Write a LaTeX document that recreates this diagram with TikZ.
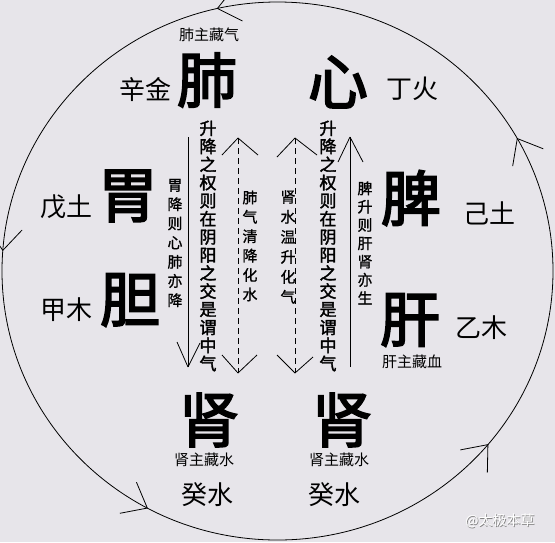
\documentclass[tikz,border=0pt]{standalone}
\usepackage{fontspec}
\newfontfamily\cjk{Noto Sans CJK SC}
\newfontfamily\cjkm[FakeBold=1]{Noto Sans CJK SC}
\newfontfamily\cjkb[FakeBold=2]{Noto Sans CJK SC}
\newfontfamily\cjkv[FakeBold=3]{Noto Sans CJK SC}
\usetikzlibrary{positioning}
\definecolor{ozadje}{RGB}{231,229,234}

\begin{document}
\begin{tikzpicture}[x=1pt, y=-1pt, line width=0.8pt,
	organ/.style={font=\cjkv\fontsize{60}{60}\selectfont, inner sep=0pt},
	gan/.style={font=\cjk\fontsize{26}{26}\selectfont, inner sep=0pt},
	opomba/.style={font=\cjk\fontsize{15}{15}\selectfont, inner sep=0pt},
	stolpec/.style={font=\cjkb\fontsize{17}{18.1}\selectfont, align=center, inner sep=0pt},
	stolpecm/.style={font=\cjkm\fontsize{15}{#1}\selectfont, align=center, inner sep=0pt},
	crtkana/.style={dash pattern=on 6pt off 4pt}]
		\fill[ozadje] (0,0) rectangle (555,542);
		\useasboundingbox (0,0) rectangle (555,542);
		% krog s puscicami
		\coordinate (sredisce) at (277.5,271);
		\draw (sredisce) ellipse [x radius=275.5, y radius=269];
		\foreach \f in {29.5,102.6,175.6,241.8,319.8} {
			\draw (sredisce) ++(-\f:275.5 and 269) coordinate (konica)
				++(129-\f:28) -- (konica) -- ++(51-\f:28);
		}

		% organi
		\node[opomba] (feizhu) at (209,35) {肺主藏气};
		\node[organ] (fei) at (207,80) {肺};
		\node[gan] (xinjin) at (145,89) {辛金};
		\node[organ] (xin) at (338,82) {心};
		\node[gan] (dinghuo) at (412,89) {丁火};
		\node[organ] (wei) at (128,196) {胃};
		\node[gan] (wutu) at (67,207) {戊土};
		\node[organ] (dan) at (130,300) {胆};
		\node[gan] (jiamu) at (67,310) {甲木};
		\node[organ] (pi) at (411,198) {脾};
		\node[gan] (jitu) at (489,213) {己土};
		\node[organ] (gan) at (410,320) {肝};
		\node[gan] (yimu) at (481,328) {乙木};
		\node[opomba] (ganzhu) at (412,362) {肝主藏血};
		\node[organ] (shenl) at (209,420) {肾};
		\node[opomba] (shenzhul) at (204,460) {肾主藏水};
		\node[gan] (guishuil) at (207,495) {癸水};
		\node[organ] (shenr) at (342,420) {肾};
		\node[opomba] (shenzhur) at (339,460) {肾主藏水};
		\node[gan] (guishuir) at (334,495) {癸水};

		% navpicna besedila
		\node[stolpecm=19.2] (weijiang) at (175,243) {胃\\降\\则\\心\\肺\\亦\\降};
		\node[stolpec] (zhongl) at (208,246) {升\\降\\之\\权\\则\\在\\阴\\阳\\之\\交\\是\\谓\\中\\气};
		\node[stolpecm=19.4] (feiqi) at (250,246) {肺\\气\\清\\降\\化\\水};
		\node[stolpecm=20] (shenshui) at (288,247) {肾\\水\\温\\升\\化\\气};
		\node[stolpec] (zhongr) at (328,246) {升\\降\\之\\权\\则\\在\\阴\\阳\\之\\交\\是\\谓\\中\\气};
		\node[stolpecm=18.3] (pisheng) at (365,243) {脾\\升\\则\\肝\\肾\\亦\\生};

		% puscice
		\coordinate (lz) at (188,137);
		\coordinate (ls) at (188,367);
		\coordinate (dz) at (350,137);
		\coordinate (ds) at (350,367);
		\coordinate (c1z) at (238,138);
		\coordinate (c1s) at (238,373);
		\coordinate (c2z) at (295,138);
		\coordinate (c2s) at (295,373);
		\draw (lz) to (ls);
		\draw (ls) -- ++(-11,-25) (ls) -- ++(12,-24);
		\draw (ds) to (dz);
		\draw (dz) -- ++(-12,25) (dz) -- ++(13,25);
		\draw[crtkana] (c1z) to (c1s);
		\draw (c1z) -- ++(-16,17) (c1z) -- ++(20,17);
		\draw (c1s) -- ++(-16,-18) (c1s) -- ++(19,-18);
		\draw[crtkana] (c2z) to (c2s);
		\draw (c2z) -- ++(-18,19) (c2z) -- ++(22,17);
		\draw (c2s) -- ++(-18,-18) (c2s) -- ++(18,-16);

		\node[font=\cjk\fontsize{14}{14}\selectfont, text=gray, inner sep=0pt] (znaksenca) at (500.7,521.7) {@太极本草};
		\node[font=\cjk\fontsize{14}{14}\selectfont, text=white, inner sep=0pt] (znak) at (500,521) {@太极本草};
	\end{tikzpicture}
\end{document}
